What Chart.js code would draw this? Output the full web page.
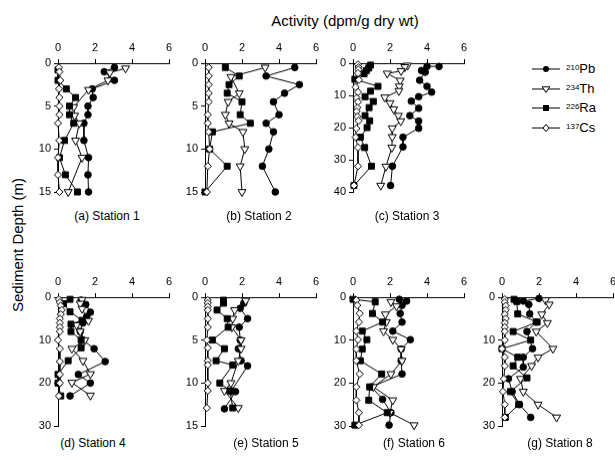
<!DOCTYPE html>
<html>
<head>
<meta charset="utf-8">
<script src="https://cdn.jsdelivr.net/npm/chart.js@4.4.0/dist/chart.umd.min.js"></script>
<style>
  html, body { margin: 0; padding: 0; background: #fff; }
  #stage { position: relative; width: 615px; height: 461px; overflow: hidden;
           font-family: "Liberation Sans", Arial, sans-serif; color: #000; }
  #stage canvas { position: absolute; }
  .txt { position: absolute; white-space: nowrap; transform: translate(-50%, -50%); }
  .leg { position: absolute; white-space: nowrap; font-size: 13px; line-height: 13px; }
  .leg sup { font-size: 8px; position: relative; top: -1px; vertical-align: top; }
</style>
</head>
<body>
<div id="stage">
  <div class="txt" style="left:345px; top:20px; font-size:15px;">Activity (dpm/g dry wt)</div>
  <div class="txt" style="left:17px; top:245px; font-size:15px; transform: translate(-50%, -50%) rotate(-90deg);">Sediment Depth (m)</div>
</div>
<script>
// [activity, depth] pairs for each station and isotope
const st1Pb = [[3.05,0.5],[2.5,1],[3.05,2],[1.85,3],[1.9,4],[1.62,5],[1.62,6],[1.4,7],[1.4,9],[1.65,11],[1.62,13],[1.65,15]];
const st1Th = [[3.65,0.6],[2.8,1.1],[2.7,2],[1.65,3.1],[0.85,5.1],[0.9,6.1],[1.15,7],[0.95,9],[1.3,11],[0.55,15]];
const st1Ra = [[0,0.8],[0,2],[0.45,3],[0.95,4],[0.62,5],[0.62,6],[0.85,7],[0.35,9],[0.08,11],[0.4,13],[1.05,15]];
const st1Cs = [[0.05,0.5],[0.08,1],[0.12,2],[0.05,3],[0.08,4],[0.08,5],[0.08,6],[0,7],[0.07,9],[0,11],[0,13],[0.08,15]];

const st2Pb = [[4.85,0.5],[3.3,1.5],[5.1,2.5],[4.3,3.5],[3.7,4.5],[4.0,6],[3.3,7],[3.7,8],[3.45,10],[3.1,12],[3.8,15]];
const st2Th = [[3.25,0.5],[1.4,1.6],[1.85,3.5],[1.25,4.5],[1.1,6],[1.3,7],[2.05,8],[2.15,10],[1.9,12],[2.0,15]];
const st2Ra = [[1.1,0.5],[1.85,1.5],[1.3,2.5],[1.2,3.5],[2.0,4.5],[1.9,6],[2.45,7],[0.4,8],[0.25,10],[1.2,12],[0,15]];
const st2Cs = [[0.2,0.5],[0.2,1.5],[0.2,2.5],[0.2,3.5],[0.2,4.5],[0.15,6],[0.15,7],[0.2,8],[0.25,10],[0.15,12],[0.1,15]];

const st3Pb = [[4.65,1],[4.0,1],[3.7,2.3],[3.9,2.8],[3.6,5.3],[4.0,7.2],[4.25,9],[3.55,10.4],[3.15,11.8],[3.55,14],[3.07,16.3],[3.55,18],[3.55,20.2],[2.7,23],[2.7,26],[2.13,32],[2.03,38]];
const st3Th = [[2.95,0.7],[2.8,1.2],[2.6,2.4],[1.85,3.2],[2.55,5.4],[2.5,7.2],[2.48,8.6],[1.72,10.6],[2.0,12.4],[2.2,14.3],[2.45,16.3],[2.58,18],[2.12,20.2],[2.12,22.9],[2.1,26.2],[1.78,32.1],[1.5,38]];
const st3Ra = [[0.95,0.6],[0.85,1.5],[0.72,2.3],[0.6,3.3],[0.1,5],[1.35,7.2],[0.95,8.7],[0.65,10.4],[1.1,11.9],[0.87,13.8],[0.65,16.3],[0.9,17.9],[0.76,20],[0.4,23],[0.63,26.2],[1.0,32],[0.05,38]];
const st3Cs = [[0.27,0.4],[0.3,1.3],[0.3,2],[0.27,3.1],[0.32,5.2],[0.14,7.4],[0.27,9],[0.2,10.8],[0.27,12],[0.23,13.8],[0.2,15],[0.23,16.6],[0.3,17.9],[0.18,20.3],[0.14,23],[0.27,26.2],[0.27,32],[0.05,38]];

const st4Pb = [[1.25,0.7],[1.5,1.7],[1.75,3.5],[1.55,4.5],[1.35,6],[1.2,8],[1.35,10],[1.95,12],[2.55,15],[1.1,18],[1.75,20],[0.65,23]];
const st4Th = [[1.3,0.6],[1.2,1.5],[1.3,2.7],[1.65,5.5],[1.0,6.5],[1.2,8],[1.45,10],[0.75,12],[1.35,14.8],[1.75,17.9],[0.75,19.9],[1.75,22.9]];
const st4Ra = [[0.65,0.5],[0.3,1.5],[0.65,3.4],[1.3,5.4],[0.7,6.3],[0.7,8],[1.25,10],[1.25,11.8],[0.55,14.8],[0,18],[0,20],[0.15,23]];
const st4Cs = [[0.05,0.5],[0.1,1.2],[0.15,2],[0.2,3],[0.15,4],[0.1,5],[0.1,6],[0.1,7],[0.1,8],[0,10],[0.1,12],[0.1,15],[0.1,18],[0.1,20],[0.05,23]];

const st5Pb = [[2.1,0.7],[1.9,1.3],[2.3,2.5],[1.85,3.5],[1.9,5],[1.8,6],[1.95,7.4],[2.3,8],[1.4,11],[1.65,11],[1.05,13]];
const st5Th = [[2.2,0.4],[1.6,1.5],[1.5,2.5],[1.45,3.5],[1.95,5],[1.95,6],[1.8,7.4],[1.4,10],[1.05,10.9],[1.8,12.9]];
const st5Ra = [[1.0,0.35],[1.0,0.7],[0.65,1.5],[1.2,2.5],[1.25,3.5],[0.4,5],[1.05,6],[0.6,7.4],[1.5,7.9],[0.8,10],[1.35,10.9],[1.5,12.9]];
const st5Cs = [[0.15,0.35],[0.15,0.7],[0.15,1.1],[0.15,1.5],[0.15,2.5],[0.15,3.5],[0.1,5],[0.15,5.9],[0.15,7.4],[0.15,7.9],[0.15,10],[0.15,10.9],[0.1,12.9]];

const st6Pb = [[2.5,0.5],[2.9,0.9],[2.65,1.9],[2.55,3.8],[2.65,5.8],[2.15,7.9],[3.1,9.9],[2.6,12.1],[2.6,14.8],[2.65,17.9],[1.0,20.9],[1.6,23.8],[2.05,26.9],[1.95,29.8]];
const st6Th = [[2.05,1.1],[2.35,2.1],[1.75,4],[1.8,5.8],[1.65,7.9],[2.15,9.9],[2.6,12.1],[2.65,14.8],[2.05,17.9],[1.1,20.9],[2.15,24],[2.0,26.9],[3.3,29.8]];
const st6Ra = [[0,0.5],[1.2,1.1],[1.05,3.8],[1.6,5.8],[0.5,7.9],[0.75,9.9],[0.5,12.1],[0.4,14.8],[1.55,17.9],[0.9,20.9],[0.85,24],[1.85,26.9],[0.1,29.8]];
const st6Cs = [[0.18,0.7],[0.23,1.9],[0.36,3.8],[0.32,5.8],[0.18,7.9],[0.27,9.9],[0.18,12.1],[0.18,14.8],[0.36,17.9],[0.18,20.9],[0.18,24],[0.32,26.9],[0.32,29.8]];

const st8Pb = [[2.0,0.3],[1.15,0.9],[1.45,1.7],[1.5,3.9],[1.85,5.8],[1.35,8],[1.65,12],[1.15,14],[1.15,16.3],[0.35,19],[0.55,22],[0.95,25],[1.55,28]];
const st8Th = [[2.35,0.7],[2.55,1.7],[2.15,4],[2.45,6],[1.85,8],[2.75,12],[1.95,14],[1.6,16],[1.0,19],[1.15,22],[1.95,25],[2.95,28]];
const st8Ra = [[0.65,0.5],[0.8,1.0],[0.85,3.9],[1.9,5.8],[0.6,8],[1.55,10],[0,12],[0.85,14],[0.6,16],[1.35,18.8],[0.45,22],[0.9,25],[0.18,28]];
const st8Cs = [[0.15,0.5],[0.15,1.2],[0.2,2],[0.2,3],[0.15,4],[0.2,5],[0.15,6],[0.15,7],[0.15,8],[0.15,10],[0,12],[0.15,14],[0.15,16],[0.1,19],[0.05,22],[0.15,25],[0.15,28]];

const stationNames = ['(a) Station 1', '(b) Station 2', '(c) Station 3', '(d) Station 4', '(e) Station 5', '(f) Station 6', '(g) Station 8'];
const depthMax = [15, 15, 40, 30, 15, 30, 30];
const depthStep = [5, 5, 10, 10, 5, 10, 10];
const activityTicks = [0, 2, 4, 6];
const isotopeMass = ['210', '234', '226', '137'];
const isotopeName = ['Pb', 'Th', 'Ra', 'Cs'];

// marker styles: Pb filled circle, Th open down-triangle, Ra filled square, Cs open diamond
const markerStyle = ['circle', 'triangle', 'rect', 'rectRot'];
const markerRotation = [0, 180, 0, 0];
const markerRadius = [3.3, 4.6, 4.2, 3.6];
const markerFill = ['#000', '#fff', '#000', '#fff'];

// panel placement (plot-area left/top), plot area is 111 x 128
const panelLeft = [58, 205, 353, 58, 205, 353, 502];
const panelTop = [63, 63, 63, 297, 297, 297, 297];
const labelX = [107, 259, 407, 93, 266, 414, 560];
const labelY = [215.5, 215.5, 215.5, 443, 443, 443, 443];
const PLOT_W = 111, PLOT_H = 128;

const stationSeries = [
  [st1Pb, st1Th, st1Ra, st1Cs],
  [st2Pb, st2Th, st2Ra, st2Cs],
  [st3Pb, st3Th, st3Ra, st3Cs],
  [st4Pb, st4Th, st4Ra, st4Cs],
  [st5Pb, st5Th, st5Ra, st5Cs],
  [st6Pb, st6Th, st6Ra, st6Cs],
  [st8Pb, st8Th, st8Ra, st8Cs],
];

const stage = document.getElementById('stage');
const tickFont = { family: "'Liberation Sans', Arial, sans-serif", size: 11 };

function makePanel(k) {
  const canvas = document.createElement('canvas');
  canvas.width = 160;
  canvas.height = 170;
  stage.appendChild(canvas);

  const chart = new Chart(canvas.getContext('2d'), {
    type: 'scatter',
    data: {
      datasets: stationSeries[k].map((pts, i) => ({
        label: isotopeMass[i] + isotopeName[i],
        data: pts.map(p => ({ x: p[0], y: p[1] })),
        showLine: true,
        borderColor: '#000',
        borderWidth: 1,
        pointStyle: markerStyle[i],
        rotation: markerRotation[i],
        pointRadius: markerRadius[i],
        pointBackgroundColor: markerFill[i],
        pointBorderColor: '#000',
        pointBorderWidth: 1,
        clip: false,
        order: 3 - i,
      })),
    },
    options: {
      responsive: false,
      maintainAspectRatio: false,
      animation: false,
      events: [],
      layout: { padding: 0 },
      plugins: { legend: { display: false }, tooltip: { enabled: false } },
      scales: {
        x: {
          type: 'linear',
          position: 'top',
          min: 0,
          max: 6,
          afterBuildTicks: s => { s.ticks = activityTicks.map(v => ({ value: v })); },
          ticks: { color: '#000', font: tickFont, padding: 4, maxRotation: 0 },
          grid: { drawOnChartArea: false, color: '#000', tickLength: 4 },
          border: { color: '#000', width: 1 },
          afterFit: s => { s.height = 24; },
        },
        y: {
          type: 'linear',
          reverse: true,
          min: 0,
          max: depthMax[k],
          ticks: { stepSize: depthStep[k], color: '#000', font: tickFont, padding: 3 },
          grid: { drawOnChartArea: false, color: '#000', tickLength: 4 },
          border: { color: '#000', width: 1 },
          afterFit: s => { s.width = 30; },
        },
      },
    },
  });

  // make the plot area exactly PLOT_W x PLOT_H and place it
  let a = chart.chartArea;
  const w = canvas.width + (PLOT_W - (a.right - a.left));
  const h = canvas.height + (PLOT_H - (a.bottom - a.top));
  chart.resize(w, h);
  a = chart.chartArea;
  canvas.style.left = (panelLeft[k] - a.left) + 'px';
  canvas.style.top = (panelTop[k] - a.top) + 'px';

  const lab = document.createElement('div');
  lab.className = 'txt';
  lab.style.left = labelX[k] + 'px';
  lab.style.top = labelY[k] + 'px';
  lab.style.fontSize = '12px';
  lab.textContent = stationNames[k];
  stage.appendChild(lab);
}

stationSeries.forEach((_, k) => makePanel(k));

// legend
const legendTop = [69, 88.7, 108.3, 128];
function markerSvg(i) {
  const cx = 14, cy = 5;
  let m;
  if (i === 0) m = `<circle cx="${cx}" cy="${cy}" r="3" fill="#000"/>`;
  if (i === 1) m = `<polygon points="${cx-3.8},${cy-2.2} ${cx+3.8},${cy-2.2} ${cx},${cy+3.5}" fill="#fff" stroke="#000"/>`;
  if (i === 2) m = `<rect x="${cx-3}" y="${cy-3}" width="6" height="6" fill="#000"/>`;
  if (i === 3) m = `<polygon points="${cx},${cy-3.6} ${cx+3},${cy} ${cx},${cy+3.6} ${cx-3},${cy}" fill="#fff" stroke="#000"/>`;
  return `<svg width="28" height="10" style="position:absolute;left:0;top:0"><line x1="0" y1="${cy}" x2="28" y2="${cy}" stroke="#000" stroke-width="1"/>${m}</svg>`;
}
isotopeName.forEach((nm, i) => {
  const icon = document.createElement('div');
  icon.style.position = 'absolute';
  icon.style.left = '531.5px';
  icon.style.top = (legendTop[i] - 5) + 'px';
  icon.innerHTML = markerSvg(i);
  stage.appendChild(icon);

  const t = document.createElement('div');
  t.className = 'leg';
  t.style.left = '566px';
  t.style.top = (legendTop[i] - 7) + 'px';
  t.innerHTML = `<sup>${isotopeMass[i]}</sup>${nm}`;
  stage.appendChild(t);
});
</script>
</body>
</html>
